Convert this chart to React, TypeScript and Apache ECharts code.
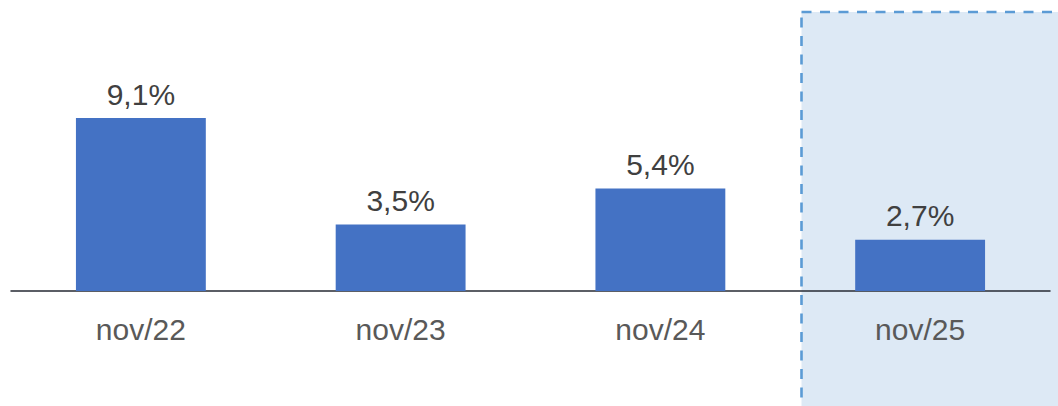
import React, { useEffect, useRef } from "react";
import * as echarts from "echarts";

const categories = ["nov/22", "nov/23", "nov/24", "nov/25"];
const values = [9.1, 3.5, 5.4, 2.7];

export default function App() {
  const ref = useRef<HTMLDivElement>(null);
  useEffect(() => {
    if (!ref.current) return;
    const chart = echarts.init(ref.current, undefined, { renderer: "svg" });
    chart.setOption({
      animation: false,
      backgroundColor: "#ffffff",
      grid: { left: 11, right: 8, top: 6, bottom: 115, containLabel: false },
      graphic: [
        {
          type: "rect",
          z: -10,
          shape: { x: 801.5, y: 12, width: 300, height: 420 },
          style: { fill: "#dde9f5", stroke: "#5b9bd5", lineWidth: 2.6, lineDash: [10, 8.5] },
        },
      ],
      xAxis: {
        type: "category",
        data: categories,
        axisLine: { lineStyle: { color: "#262a33", width: 1.5 } },
        axisTick: { show: false },
        axisLabel: {
          color: "#595959",
          fontSize: 30,
          fontFamily: "Liberation Sans, Arial, sans-serif",
          margin: 23,
        },
      },
      yAxis: {
        type: "value",
        min: 0,
        max: 15,
        show: false,
        splitLine: { show: false },
      },
      series: [
        {
          type: "bar",
          data: values,
          barWidth: "50%",
          z: 2,
          itemStyle: { color: "#4472c4" },
          label: {
            show: true,
            position: "top",
            distance: 9,
            color: "#404040",
            fontSize: 30,
            fontFamily: "Liberation Sans, Arial, sans-serif",
            formatter: (p: any) => p.value.toFixed(1).replace(".", ",") + "%",
          },
        },
      ],
    });
    return () => chart.dispose();
  }, []);
  return <div ref={ref} style={{ width: 1058, height: 406, position: "absolute", left: 0, top: 0 }} />;
}
